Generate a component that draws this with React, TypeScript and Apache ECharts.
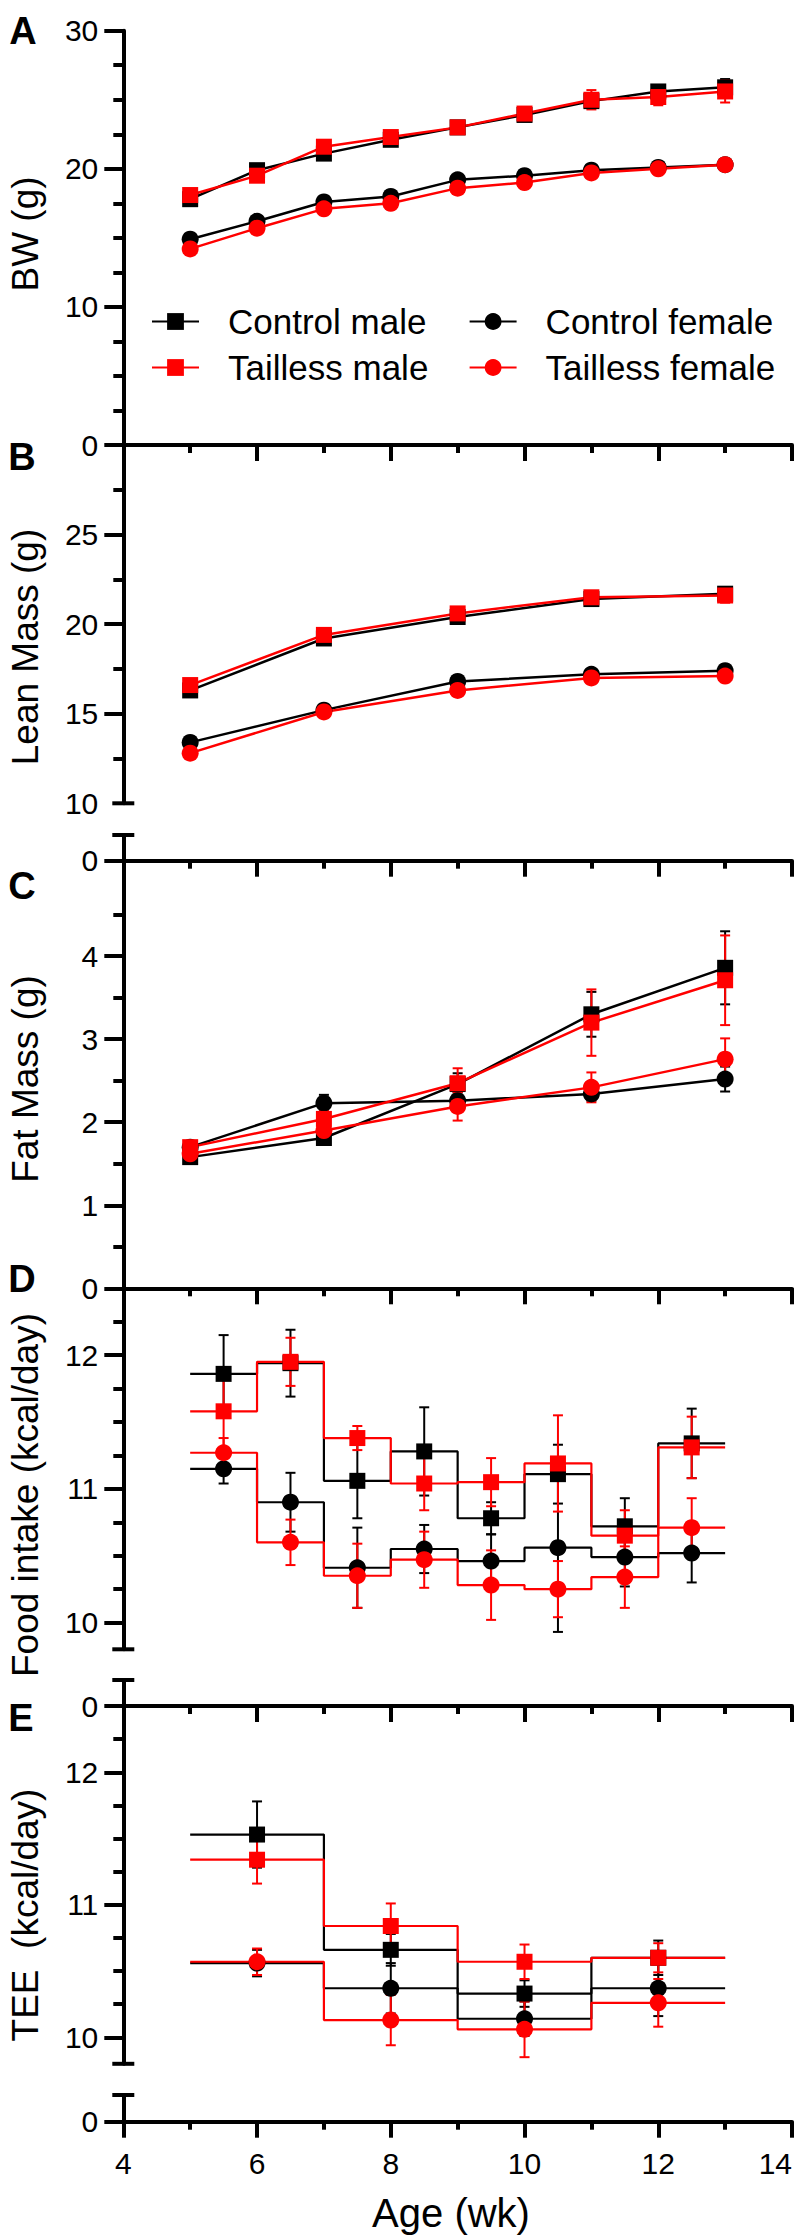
import React, { useEffect, useRef } from "react";
import * as echarts from "echarts";

const FONT = "'Liberation Sans', Arial, Helvetica, sans-serif";
const BLACK = "#000000";
const RED = "#ff0000";

// ---------- Data ----------
const GROUP_NAMES = ["Control male", "Control female", "Tailless male", "Tailless female"];

// A: Body weight (g)
const BW_WEEKS = [5, 6, 7, 8, 9, 10, 11, 12, 13];
const BW_CTRL_MALE = [17.8, 19.9, 21.1, 22.1, 23.0, 23.9, 24.9, 25.6, 25.9];
const BW_CTRL_MALE_ERR = [0.3, 0.3, 0.3, 0.3, 0.3, 0.3, 0.4, 0.4, 0.6];
const BW_CTRL_FEMALE = [14.9, 16.2, 17.6, 18.0, 19.2, 19.5, 19.9, 20.1, 20.3];
const BW_CTRL_FEMALE_ERR = [0.2, 0.2, 0.2, 0.2, 0.2, 0.2, 0.2, 0.2, 0.3];
const BW_TL_MALE = [18.1, 19.5, 21.6, 22.3, 23.0, 24.0, 25.0, 25.2, 25.6];
const BW_TL_MALE_ERR = [0.3, 0.4, 0.4, 0.3, 0.3, 0.4, 0.7, 0.6, 0.8];
const BW_TL_FEMALE = [14.2, 15.7, 17.1, 17.5, 18.6, 19.0, 19.7, 20.0, 20.3];
const BW_TL_FEMALE_ERR = [0.3, 0.3, 0.3, 0.3, 0.3, 0.3, 0.3, 0.3, 0.3];

// B: Lean mass (g)
const LM_WEEKS = [5, 7, 9, 11, 13];
const LM_CTRL_MALE = [16.3, 19.2, 20.4, 21.4, 21.7];
const LM_CTRL_MALE_ERR = [0.3, 0.3, 0.3, 0.3, 0.3];
const LM_CTRL_FEMALE = [13.4, 15.2, 16.8, 17.2, 17.4];
const LM_CTRL_FEMALE_ERR = [0.3, 0.3, 0.3, 0.3, 0.3];
const LM_TL_MALE = [16.6, 19.4, 20.6, 21.5, 21.6];
const LM_TL_MALE_ERR = [0.3, 0.3, 0.3, 0.2, 0.4];
const LM_TL_FEMALE = [12.8, 15.1, 16.3, 17.0, 17.1];
const LM_TL_FEMALE_ERR = [0.3, 0.3, 0.3, 0.3, 0.3];

// C: Fat mass (g)
const FM_WEEKS = [5, 7, 9, 11, 13];
const FM_CTRL_MALE = [1.58, 1.81, 2.46, 3.3, 3.86];
const FM_CTRL_MALE_ERR = [0.05, 0.05, 0.13, 0.27, 0.44];
const FM_CTRL_FEMALE = [1.7, 2.23, 2.26, 2.34, 2.52];
const FM_CTRL_FEMALE_ERR = [0.05, 0.1, 0.1, 0.08, 0.15];
const FM_TL_MALE = [1.7, 2.04, 2.47, 3.2, 3.71];
const FM_TL_MALE_ERR = [0.05, 0.1, 0.18, 0.4, 0.54];
const FM_TL_FEMALE = [1.62, 1.9, 2.19, 2.42, 2.76];
const FM_TL_FEMALE_ERR = [0.05, 0.08, 0.17, 0.18, 0.25];

// D: Food intake (kcal/day), weekly bins
const FI_WEEKS = [5.5, 6.5, 7.5, 8.5, 9.5, 10.5, 11.5, 12.5];
const FI_HALF_BIN = 0.5;
const FI_CTRL_MALE = [11.86, 11.94, 11.06, 11.28, 10.78, 11.11, 10.72, 11.34];
const FI_CTRL_MALE_ERR = [0.29, 0.25, 0.28, 0.33, 0.12, 0.22, 0.21, 0.26];
const FI_CTRL_FEMALE = [11.15, 10.9, 10.41, 10.55, 10.46, 10.56, 10.49, 10.52];
const FI_CTRL_FEMALE_ERR = [0.11, 0.22, 0.3, 0.18, 0.2, 0.63, 0.22, 0.22];
const FI_TL_MALE = [11.58, 11.95, 11.38, 11.04, 11.05, 11.19, 10.65, 11.31];
const FI_TL_MALE_ERR = [0.3, 0.18, 0.09, 0.2, 0.18, 0.36, 0.19, 0.23];
const FI_TL_FEMALE = [11.27, 10.6, 10.35, 10.47, 10.28, 10.25, 10.34, 10.71];
const FI_TL_FEMALE_ERR = [0.11, 0.17, 0.24, 0.21, 0.26, 0.21, 0.23, 0.22];

// E: TEE (kcal/day), two-week bins
const TEE_WEEKS = [6, 8, 10, 12];
const TEE_HALF_BIN = 1;
const TEE_CTRL_MALE = [11.53, 10.66, 10.33, 10.6];
const TEE_CTRL_MALE_ERR = [0.25, 0.12, 0.1, 0.13];
const TEE_CTRL_FEMALE = [10.56, 10.37, 10.14, 10.37];
const TEE_CTRL_FEMALE_ERR = [0.1, 0.19, 0.13, 0.21];
const TEE_TL_MALE = [11.34, 10.84, 10.57, 10.6];
const TEE_TL_MALE_ERR = [0.18, 0.17, 0.13, 0.11];
const TEE_TL_FEMALE = [10.57, 10.13, 10.06, 10.26];
const TEE_TL_FEMALE_ERR = [0.1, 0.19, 0.21, 0.18];

// Axis ticks
const X_MIN = 4;
const X_MAX = 14;
const X_INTERVAL = 2;
const A_TICKS = [0, 10, 20, 30];
const A_MINOR = [2.5, 5, 7.5, 12.5, 15, 17.5, 22.5, 25, 27.5];
const B_LABELS = [10, 15, 20, 25];
const B_TICKS = [15, 20, 25];
const B_MINOR = [12.5, 17.5, 22.5, 27.5];
const C_TICKS = [0, 1, 2, 3, 4];
const C_MINOR = [0.5, 1.5, 2.5, 3.5, 4.5];
const DE_LABELS = [10, 11, 12];
const DE_MINOR = [10.25, 10.5, 10.75, 11.25, 11.5, 11.75, 12.25];
const ZERO = [0];

// ---------- Layout ----------
const LEFT = 123.3;
const RIGHT = 792;
const GRIDS = [
  { top: 30.7, bottom: 445 }, // 0 A
  { top: 445, bottom: 803.3 }, // 1 B upper
  { top: 835, bottom: 860.7 }, // 2 B lower
  { top: 860.7, bottom: 1288.3 }, // 3 C
  { top: 1288.3, bottom: 1649.3 }, // 4 D upper
  { top: 1680, bottom: 1706 }, // 5 D lower
  { top: 1706, bottom: 2063.8 }, // 6 E upper
  { top: 2095, bottom: 2121.7 }, // 7 E lower
];

const AXIS_W = 4;
const tickStyle = { color: BLACK, width: AXIS_W };

function xAxisCfg(gi: number, show: boolean, labels: boolean) {
  return {
    type: "value",
    gridIndex: gi,
    show,
    min: X_MIN,
    max: X_MAX,
    interval: X_INTERVAL,
    position: "bottom",
    axisLine: { show: true, onZero: false, lineStyle: tickStyle },
    axisTick: { show: true, length: 16, lineStyle: tickStyle },
    minorTick: { show: true, splitNumber: 2, length: 8, lineStyle: tickStyle },
    axisLabel: {
      show: labels,
      fontSize: 30,
      color: BLACK,
      fontFamily: FONT,
      margin: 27,
      alignMaxLabel: "right",
    },
    splitLine: { show: false },
    minorSplitLine: { show: false },
  };
}

function yAxesCfg(gi: number, min: number, max: number, labels: number[], ticks: number[], minor: number[]) {
  const major = {
    type: "value",
    gridIndex: gi,
    min,
    max,
    position: "left",
    axisLine: { show: true, onZero: false, lineStyle: tickStyle },
    axisTick: { show: ticks.length > 0, customValues: ticks, length: 19, lineStyle: tickStyle },
    axisLabel: {
      show: labels.length > 0,
      customValues: labels,
      fontSize: 30,
      color: BLACK,
      fontFamily: FONT,
      margin: 25,
    },
    splitLine: { show: false },
  };
  const minorAxis = {
    type: "value",
    gridIndex: gi,
    min,
    max,
    position: "left",
    axisLine: { show: false, onZero: false },
    axisTick: { show: minor.length > 0, customValues: minor.length ? minor : [min], length: 10, lineStyle: tickStyle },
    axisLabel: { show: false },
    splitLine: { show: false },
  };
  return [major, minorAxis];
}

type Group = { name: string; color: string; symbol: string; size: number };
const GROUPS: Group[] = [
  { name: GROUP_NAMES[0], color: BLACK, symbol: "rect", size: 16 },
  { name: GROUP_NAMES[1], color: BLACK, symbol: "circle", size: 17 },
  { name: GROUP_NAMES[2], color: RED, symbol: "rect", size: 16 },
  { name: GROUP_NAMES[3], color: RED, symbol: "circle", size: 17 },
];

function errSeries(gi: number, xs: number[], ys: number[], es: number[], color: string) {
  return {
    type: "custom",
    name: "err",
    xAxisIndex: gi,
    yAxisIndex: gi * 2,
    silent: true,
    z: 3,
    encode: { x: 0, y: 1 },
    data: xs.map((x, i) => [x, ys[i], es[i]]),
    renderItem: (params: any, api: any) => {
      const x = api.value(0);
      const y = api.value(1);
      const e = api.value(2);
      const t = api.coord([x, y + e]);
      const b = api.coord([x, y - e]);
      const cw = 5;
      const style = { stroke: color, lineWidth: 2 };
      return {
        type: "group",
        children: [
          { type: "line", shape: { x1: t[0], y1: t[1], x2: b[0], y2: b[1] }, style },
          { type: "line", shape: { x1: t[0] - cw, y1: t[1], x2: t[0] + cw, y2: t[1] }, style },
          { type: "line", shape: { x1: b[0] - cw, y1: b[1], x2: b[0] + cw, y2: b[1] }, style },
        ],
      };
    },
  };
}

function lineSeries(gi: number, g: Group, xs: number[], ys: number[]) {
  return {
    type: "line",
    name: g.name,
    xAxisIndex: gi,
    yAxisIndex: gi * 2,
    data: xs.map((x, i) => [x, ys[i]]),
    symbol: g.symbol,
    symbolSize: g.size,
    showSymbol: true,
    z: 3,
    lineStyle: { color: g.color, width: 2.5 },
    itemStyle: { color: g.color, opacity: 1 },
    emphasis: { disabled: true },
  };
}

function stepSeries(gi: number, g: Group, xs: number[], ys: number[], half: number) {
  const pts: number[][] = [];
  xs.forEach((x, i) => {
    pts.push([x - half, ys[i]]);
    pts.push([x + half, ys[i]]);
  });
  return [
    {
      type: "line",
      name: g.name + " step",
      xAxisIndex: gi,
      yAxisIndex: gi * 2,
      data: pts,
      showSymbol: false,
      symbol: "none",
      z: 3,
      lineStyle: { color: g.color, width: 2.2 },
      emphasis: { disabled: true },
    },
    {
      type: "scatter",
      name: g.name + " pts",
      xAxisIndex: gi,
      yAxisIndex: gi * 2,
      data: xs.map((x, i) => [x, ys[i]]),
      symbol: g.symbol,
      symbolSize: g.size,
      z: 3,
      itemStyle: { color: g.color, opacity: 1 },
      emphasis: { disabled: true },
    },
  ];
}

function buildOption() {
  const grid = GRIDS.map((g) => ({
    left: LEFT,
    top: g.top,
    width: RIGHT - LEFT,
    height: g.bottom - g.top,
    containLabel: false,
    outerBoundsMode: "none",
  }));

  const xAxis = [
    xAxisCfg(0, true, false),
    xAxisCfg(1, false, false),
    xAxisCfg(2, true, false),
    xAxisCfg(3, true, false),
    xAxisCfg(4, false, false),
    xAxisCfg(5, true, false),
    xAxisCfg(6, false, false),
    xAxisCfg(7, true, true),
  ];

  const yAxis = [
    ...yAxesCfg(0, 0, 30, A_TICKS, A_TICKS, A_MINOR),
    ...yAxesCfg(1, 10, 30, B_LABELS, B_TICKS, B_MINOR),
    ...yAxesCfg(2, 0, 1, ZERO, ZERO, []),
    ...yAxesCfg(3, 0, 5.15, C_TICKS, C_TICKS, C_MINOR),
    ...yAxesCfg(4, 9.8, 12.5, DE_LABELS, DE_LABELS, DE_MINOR),
    ...yAxesCfg(5, 0, 1, ZERO, ZERO, []),
    ...yAxesCfg(6, 9.8, 12.5, DE_LABELS, DE_LABELS, DE_MINOR),
    ...yAxesCfg(7, 0, 1, ZERO, ZERO, []),
  ];

  const series: any[] = [];
  const bw = [
    [BW_CTRL_MALE, BW_CTRL_MALE_ERR],
    [BW_CTRL_FEMALE, BW_CTRL_FEMALE_ERR],
    [BW_TL_MALE, BW_TL_MALE_ERR],
    [BW_TL_FEMALE, BW_TL_FEMALE_ERR],
  ];
  const lm = [
    [LM_CTRL_MALE, LM_CTRL_MALE_ERR],
    [LM_CTRL_FEMALE, LM_CTRL_FEMALE_ERR],
    [LM_TL_MALE, LM_TL_MALE_ERR],
    [LM_TL_FEMALE, LM_TL_FEMALE_ERR],
  ];
  const fm = [
    [FM_CTRL_MALE, FM_CTRL_MALE_ERR],
    [FM_CTRL_FEMALE, FM_CTRL_FEMALE_ERR],
    [FM_TL_MALE, FM_TL_MALE_ERR],
    [FM_TL_FEMALE, FM_TL_FEMALE_ERR],
  ];
  const fi = [
    [FI_CTRL_MALE, FI_CTRL_MALE_ERR],
    [FI_CTRL_FEMALE, FI_CTRL_FEMALE_ERR],
    [FI_TL_MALE, FI_TL_MALE_ERR],
    [FI_TL_FEMALE, FI_TL_FEMALE_ERR],
  ];
  const tee = [
    [TEE_CTRL_MALE, TEE_CTRL_MALE_ERR],
    [TEE_CTRL_FEMALE, TEE_CTRL_FEMALE_ERR],
    [TEE_TL_MALE, TEE_TL_MALE_ERR],
    [TEE_TL_FEMALE, TEE_TL_FEMALE_ERR],
  ];

  GROUPS.forEach((g, k) => {
    series.push(lineSeries(0, g, BW_WEEKS, bw[k][0]));
    series.push(errSeries(0, BW_WEEKS, bw[k][0], bw[k][1], g.color));
  });
  GROUPS.forEach((g, k) => {
    series.push(lineSeries(1, g, LM_WEEKS, lm[k][0]));
    series.push(errSeries(1, LM_WEEKS, lm[k][0], lm[k][1], g.color));
  });
  GROUPS.forEach((g, k) => {
    series.push(lineSeries(3, g, FM_WEEKS, fm[k][0]));
    series.push(errSeries(3, FM_WEEKS, fm[k][0], fm[k][1], g.color));
  });
  GROUPS.forEach((g, k) => {
    series.push(...stepSeries(4, g, FI_WEEKS, fi[k][0], FI_HALF_BIN));
    series.push(errSeries(4, FI_WEEKS, fi[k][0], fi[k][1], g.color));
  });
  GROUPS.forEach((g, k) => {
    series.push(...stepSeries(6, g, TEE_WEEKS, tee[k][0], TEE_HALF_BIN));
    series.push(errSeries(6, TEE_WEEKS, tee[k][0], tee[k][1], g.color));
  });

  const legendPos = [
    { name: GROUP_NAMES[0], left: 151, top: 304 },
    { name: GROUP_NAMES[1], left: 468.6, top: 304 },
    { name: GROUP_NAMES[2], left: 151, top: 350 },
    { name: GROUP_NAMES[3], left: 468.6, top: 350 },
  ];
  const legend = legendPos.map((p) => ({
    left: p.left,
    top: p.top,
    padding: 0,
    data: [p.name],
    selectedMode: false,
    itemWidth: 47,
    itemHeight: 21,
    textStyle: { fontSize: 35, color: BLACK, fontFamily: FONT, padding: [0, 0, 0, 24] },
  }));

  const letter = (t: string, x: number, y: number) => ({
    type: "text",
    x,
    y,
    silent: true,
    style: {
      text: t,
      fill: BLACK,
      font: `bold 38px ${FONT}`,
      align: "center",
      verticalAlign: "middle",
      textAlign: "center",
      textVerticalAlign: "middle",
    },
  });
  const title = (t: string, x: number, y: number, rot: boolean, size: number) => ({
    type: "text",
    x,
    y,
    rotation: rot ? Math.PI / 2 : 0,
    silent: true,
    style: {
      text: t,
      fill: BLACK,
      font: `${size}px ${FONT}`,
      align: "center",
      verticalAlign: "middle",
      textAlign: "center",
      textVerticalAlign: "middle",
    },
  });
  const breakBar = (y: number) => ({
    type: "line",
    silent: true,
    shape: { x1: LEFT - 11, y1: y, x2: LEFT + 11, y2: y },
    style: { stroke: BLACK, lineWidth: AXIS_W },
  });

  const graphic = [
    letter("A", 23, 31),
    letter("B", 22, 457),
    letter("C", 22, 886),
    letter("D", 22, 1279),
    letter("E", 21, 1718),
    title("BW (g)", 25, 234, true, 37),
    title("Lean Mass (g)", 25, 647, true, 37),
    title("Fat Mass (g)", 25, 1079, true, 37),
    title("Food intake (kcal/day)", 25, 1495, true, 37),
    title("TEE  (kcal/day)", 25, 1915, true, 37),
    title("Age (wk)", 451, 2213, false, 40),
    breakBar(GRIDS[1].bottom),
    breakBar(GRIDS[2].top),
    breakBar(GRIDS[4].bottom),
    breakBar(GRIDS[5].top),
    breakBar(GRIDS[6].bottom),
    breakBar(GRIDS[7].top),
  ];

  return {
    animation: false,
    backgroundColor: "#ffffff",
    textStyle: { fontFamily: FONT },
    grid,
    xAxis,
    yAxis,
    legend,
    series,
    graphic,
  };
}

export default function App() {
  const ref = useRef<HTMLDivElement>(null);
  useEffect(() => {
    if (!ref.current) return;
    const chart = echarts.init(ref.current, undefined, { renderer: "svg" });
    chart.setOption(buildOption() as any);
    return () => chart.dispose();
  }, []);
  return (
    <div
      ref={ref}
      style={{ position: "absolute", left: 0, top: 0, width: 800, height: 2239, background: "#fff" }}
    />
  );
}
